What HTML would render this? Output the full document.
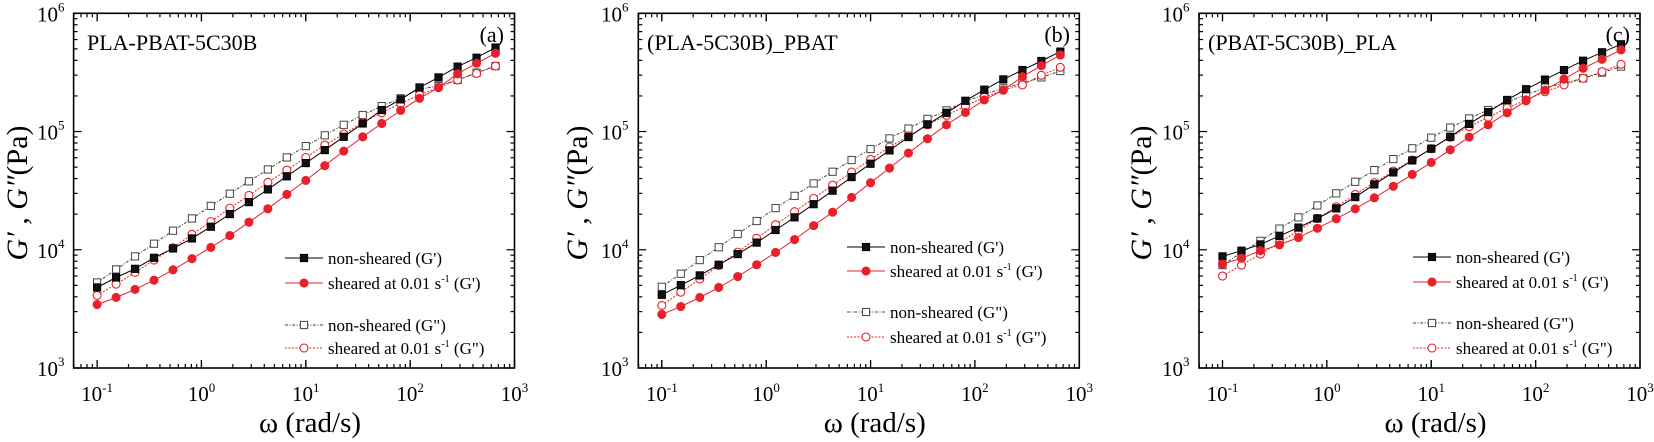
<!DOCTYPE html>
<html><head><meta charset="utf-8">
<style>
html,body{margin:0;padding:0;background:#fff;}
svg{display:block;font-family:"Liberation Serif","DejaVu Serif",serif;}
</style></head>
<body>
<svg id="fig" width="1654" height="442" viewBox="0 0 1654 442" xmlns="http://www.w3.org/2000/svg"></svg>
<script>
const omega = [0.1,0.152,0.231,0.351,0.534,0.811,1.23,1.87,2.85,4.33,6.58,10,15.2,23.1,35.1,53.4,81.1,123,187,285,433,658];
const xTickExps = [-1,0,1,2,3];
const yTickExps = [3,4,5,6];
const panelTitles = ["PLA-PBAT-5C30B","(PLA-5C30B)_PBAT","(PBAT-5C30B)_PLA"];
const panelLetters = ["(a)","(b)","(c)"];
const legendLabels = ["non-sheared (G')","sheared at 0.01 s","non-sheared (G\")","sheared at 0.01 s"];
// panel a
const aGp  = [4800,5830,6900,8550,10260,12470,15660,20050,25300,32400,41800,54100,69700,90300,117000,152000,187000,236000,287000,354000,421000,513000];
const aGpS = [3440,3950,4620,5530,6770,8400,10470,13200,17100,22200,29400,38600,51400,68400,90300,117000,151000,191000,235000,308000,378000,459000];
const aGpp = [5290,6820,8790,11250,14500,18400,23500,29800,37900,47800,60400,75300,92900,114000,138000,164000,191000,228000,243000,273000,315000,358000];
const aGppS= [4110,5120,6430,8180,10400,13500,17300,22500,28800,37200,47200,60400,76900,95300,119000,144000,173000,204000,236000,273000,310000,358000];
// panel b
const bGp  = [4160,5020,6070,7470,9190,11500,14700,18800,24300,31600,41200,53400,69300,89800,115000,144000,182000,226000,276000,331000,395000,474000];
const bGpS = [2840,3310,3950,4800,5940,7470,9490,12200,16000,20800,27700,36900,49100,65800,86900,114000,145000,185000,224000,291000,361000,444000];
const bGpp = [4860,6270,8180,10500,13600,17500,22500,28600,36400,45700,57400,71100,87500,106000,128000,151000,179000,207000,232000,256000,287000,325000];
const bGppS= [3380,4380,5650,7360,9550,12500,16300,21000,27200,35200,45400,58100,74000,91600,114000,137000,164000,195000,224000,248000,299000,349000];
// panel c
const cGp  = [8790,9820,11100,13100,15400,18400,22400,27900,35700,45100,57000,71600,90300,116000,146000,185000,228000,275000,331000,397000,468000,547000];
const cGpS = [7570,8490,9820,11000,12700,15200,18300,22200,27500,34400,43400,54800,70100,89800,114000,144000,182000,224000,278000,343000,408000,490000];
const cGpp = [7420,9490,11900,15100,18800,23700,30000,37600,47200,58500,72100,88700,108000,129000,152000,178000,204000,235000,256000,282000,315000,354000];
const cGppS= [5990,7420,9190,11500,14500,18400,23100,29400,36900,46300,57400,71600,89300,110000,132000,158000,185000,217000,248000,282000,321000,370000];

const NS="http://www.w3.org/2000/svg";
const svg=document.getElementById('fig');
function mk(tag,attrs,parent){const e=document.createElementNS(NS,tag);for(const k in attrs)e.setAttribute(k,attrs[k]);(parent||svg).appendChild(e);return e;}

const panels=[
 {L:73.6,R:514.5,x0:97.1,yl:[37,64],ytitle:17,leg:{x1:285,x2:323,tx:328,rows:[258,283,325,348]},tx:87,lx:504,data:[aGp,aGpS,aGpp,aGppS],name:'a'},
 {L:638.3,R:1079.3,x0:661.8,yl:[601,628],ytitle:577,leg:{x1:847,x2:885,tx:890,rows:[247,271,312,337]},tx:647,lx:1070,data:[bGp,bGpS,bGpp,bGppS],name:'b'},
 {L:1199,R:1640,x0:1222.5,yl:[1162,1189],ytitle:1141,leg:{x1:1413,x2:1451,tx:1456,rows:[257,282,323,348]},tx:1208,lx:1630,data:[cGp,cGpS,cGpp,cGppS],name:'c'}
];
const T=13.3,B=368,DY=(B-T)/3;
const styles=[
 {stroke:'#000',fill:'#111',dash:'',shape:'sq'},
 {stroke:'#e8202a',fill:'#e8202a',dash:'',shape:'ci'},
 {stroke:'#444',fill:'#fff',dash:'3,1.5,1,1.5',shape:'sq'},
 {stroke:'#e8202a',fill:'#fff',dash:'2,1.5',shape:'ci'}
];

panels.forEach((p,pi)=>{
  const dx=(p.R-p.x0)/4;
  const xS=v=>p.x0+(Math.log10(v)+1)*dx;
  const yS=v=>B-(Math.log10(v)-3)*DY;
  const g=mk('g',{});
  
  
  const fr=mk('rect',{x:p.L,y:T,width:p.R-p.L,height:B-T,fill:'none',stroke:'#000','stroke-width':1.6},g);
  
  
  for(let e=-2;e<=2;e++){
    for(let m=1;m<10;m++){
      const v=m*Math.pow(10,e); const x=xS(v);
      if(x<p.L-0.5||x>p.R+0.5)continue;
      const len=m===1?8:4;
      mk('line',{x1:x,y1:B,x2:x,y2:B-len,stroke:'#000','stroke-width':1.2},g);
      mk('line',{x1:x,y1:T,x2:x,y2:T+len,stroke:'#000','stroke-width':1.2},g);
    }
  }
  xTickExps.forEach(e=>{
    const x=xS(Math.pow(10,e));
    mk('line',{x1:x,y1:B,x2:x,y2:B-8,stroke:'#000','stroke-width':1.2},g);
    mk('line',{x1:x,y1:T,x2:x,y2:T+8,stroke:'#000','stroke-width':1.2},g);
    const t=mk('text',{x:x,y:401,'font-size':21,'text-anchor':'middle'},g);
    
    
    t.innerHTML='10<tspan dy="-9" font-size="13">'+e+'</tspan>';
  });
  for(let e=3;e<6;e++){
    for(let m=2;m<10;m++){
      const y=yS(m*Math.pow(10,e));
      mk('line',{x1:p.L,y1:y,x2:p.L+4,y2:y,stroke:'#000','stroke-width':1.2},g);
      mk('line',{x1:p.R,y1:y,x2:p.R-4,y2:y,stroke:'#000','stroke-width':1.2},g);
    }
  }
  yTickExps.forEach(e=>{
    const y=yS(Math.pow(10,e));
    mk('line',{x1:p.L,y1:y,x2:p.L+8,y2:y,stroke:'#000','stroke-width':1.2},g);
    mk('line',{x1:p.R,y1:y,x2:p.R-8,y2:y,stroke:'#000','stroke-width':1.2},g);
    const t=mk('text',{x:p.yl[0],y:y+8,'font-size':21},g);
    
    
    t.innerHTML='10<tspan dy="-10" font-size="13">'+e+'</tspan>';
  });
  const xt=mk('text',{x:(p.L+p.R)/2+16,y:432,'font-size':29,'text-anchor':'middle'},g);
  
  
  xt.textContent='\u03c9 (rad/s)';
  const yt=mk('text',{x:0,y:0,'font-size':30,'text-anchor':'middle',transform:'translate('+(p.ytitle+10)+',193) rotate(-90)'},g);
  
  
  yt.innerHTML='<tspan font-style="italic">G\u2032 , G\u2033</tspan>(Pa)';
  const pt=mk('text',{x:p.tx,y:50,'font-size':22},g);
  
  
  pt.textContent=panelTitles[pi];
  const pl=mk('text',{x:p.lx,y:42,'font-size':22,'text-anchor':'end'},g);
  
  
  pl.textContent=panelLetters[pi];
  [2,3,0,1].forEach(si=>{
    const st=styles[si]; const vals=p.data[si];
    const sg=mk('g',{},g);
    
    
    const pts=vals.map((v,i)=>xS(omega[i]).toFixed(1)+','+yS(v).toFixed(1)).join(' ');
    mk('polyline',{points:pts,fill:'none',stroke:st.stroke,'stroke-width':1,'stroke-dasharray':st.dash},sg);
    vals.forEach((v,i)=>{
      const x=xS(omega[i]),y=yS(v);
      let m;
      if(st.shape==='sq') m=mk('rect',{x:x-3.6,y:y-3.6,width:7.2,height:7.2,fill:st.fill,stroke:st.stroke,'stroke-width':1},sg);
      else m=mk('circle',{cx:x,cy:y,r:4,fill:st.fill,stroke:st.stroke,'stroke-width':1.1},sg);
      
      
    });
  });
  const lg=mk('g',{},g);
  
  
  styles.forEach((st,i)=>{
    const y=p.leg.rows[i]; const mx=(p.leg.x1+p.leg.x2)/2;
    const e=mk('g',{},lg);
    
    
    mk('line',{x1:p.leg.x1,y1:y,x2:p.leg.x2,y2:y,stroke:st.stroke,'stroke-width':1,'stroke-dasharray':st.dash},e);
    if(st.shape==='sq') mk('rect',{x:mx-3.6,y:y-3.6,width:7.2,height:7.2,fill:st.fill,stroke:st.stroke,'stroke-width':1},e);
    else mk('circle',{cx:mx,cy:y,r:4,fill:st.fill,stroke:st.stroke,'stroke-width':1.1},e);
    const t=mk('text',{x:p.leg.tx,y:y+6,'font-size':17},e);
    if(i===1||i===3){
      t.innerHTML=legendLabels[i]+'<tspan dy="-7" font-size="10">-1</tspan><tspan dy="7"> ('+(i===1?"G'":'G"')+')</tspan>';
    } else t.textContent=legendLabels[i];
  });
});
</script>
</body></html>
